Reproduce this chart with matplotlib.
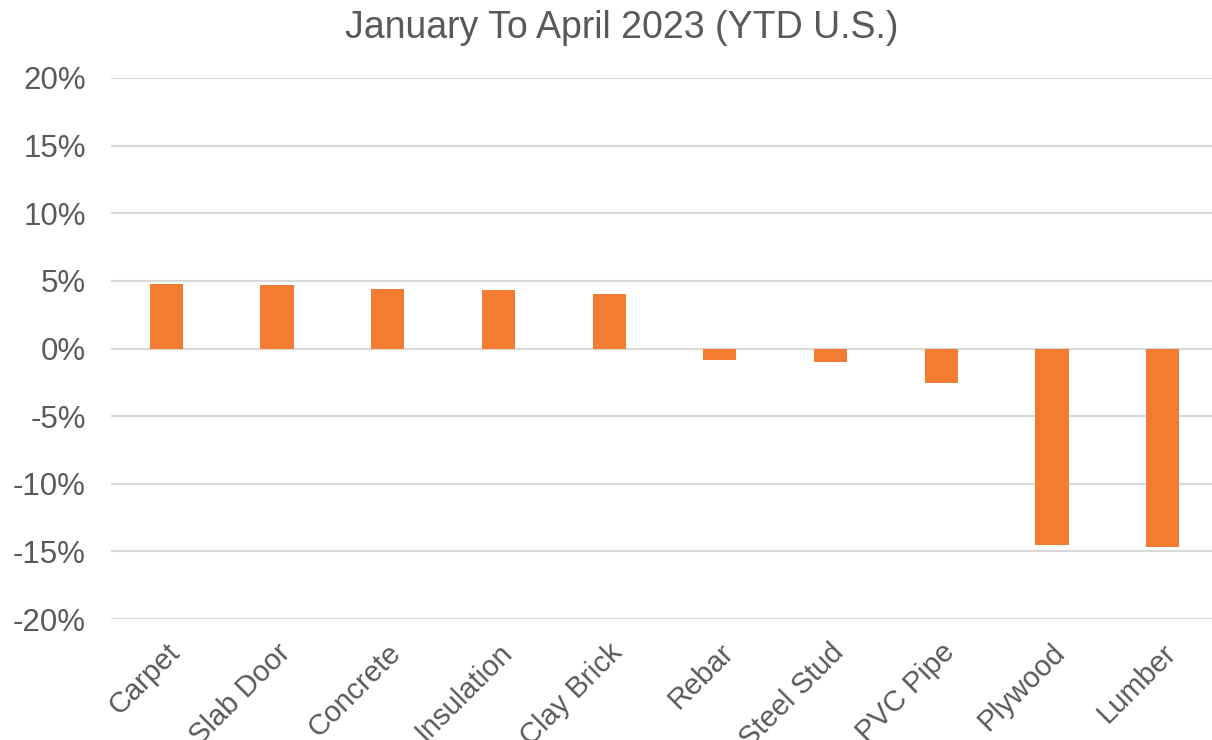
import matplotlib
matplotlib.use('Agg')
import matplotlib.pyplot as plt
import matplotlib.transforms as mtransforms
import numpy as np

# data (percent change, YTD)
materials = ['Carpet', 'Slab Door', 'Concrete', 'Insulation', 'Clay Brick',
             'Rebar', 'Steel Stud', 'PVC Pipe', 'Plywood', 'Lumber']
change = [4.8, 4.68, 4.43, 4.29, 4.04, -0.84, -1.03, -2.54, -14.55, -14.69]
y_ticks = [-20, -15, -10, -5, 0, 5, 10, 15, 20]

plt.rcParams['font.family'] = ['Liberation Sans', 'DejaVu Sans']
text_color = '#595959'

fig = plt.figure(figsize=(12.12, 7.4), dpi=100)
ax = fig.add_axes([111 / 1212, 0.1635, 1107 / 1212, 0.7311])

x = np.arange(len(materials))
ax.bar(x, change, width=0.3, color='#F27D32', zorder=3)

ax.set_xlim(-0.5, len(materials) - 0.5)
ax.set_ylim(-20, 20)
ax.set_yticks(y_ticks)
ax.set_yticklabels(['%d%%' % v for v in y_ticks])
ax.yaxis.grid(True, color='#D9D9D9', linewidth=1.5, zorder=0)

for s in ax.spines.values():
    s.set_visible(False)
ax.tick_params(axis='both', length=0, colors=text_color)
ax.tick_params(axis='y', pad=18, labelsize=22.5)

ax.set_xticks(x)
ax.set_xticklabels(materials, rotation=45, ha='right', va='center',
                   rotation_mode='anchor', fontsize=21)
ax.tick_params(axis='x', pad=21)
# nudge the slanted labels a bit to the right, like the original
shift = mtransforms.ScaledTranslation(0.09, 0, fig.dpi_scale_trans)
for lbl in ax.get_xticklabels():
    lbl.set_transform(lbl.get_transform() + shift)

fig.text(622 / 1212, 0.962, 'January To April 2023 (YTD U.S.)', ha='center', va='center',
         fontsize=27, color=text_color)

fig.savefig('out.png', dpi=100)
